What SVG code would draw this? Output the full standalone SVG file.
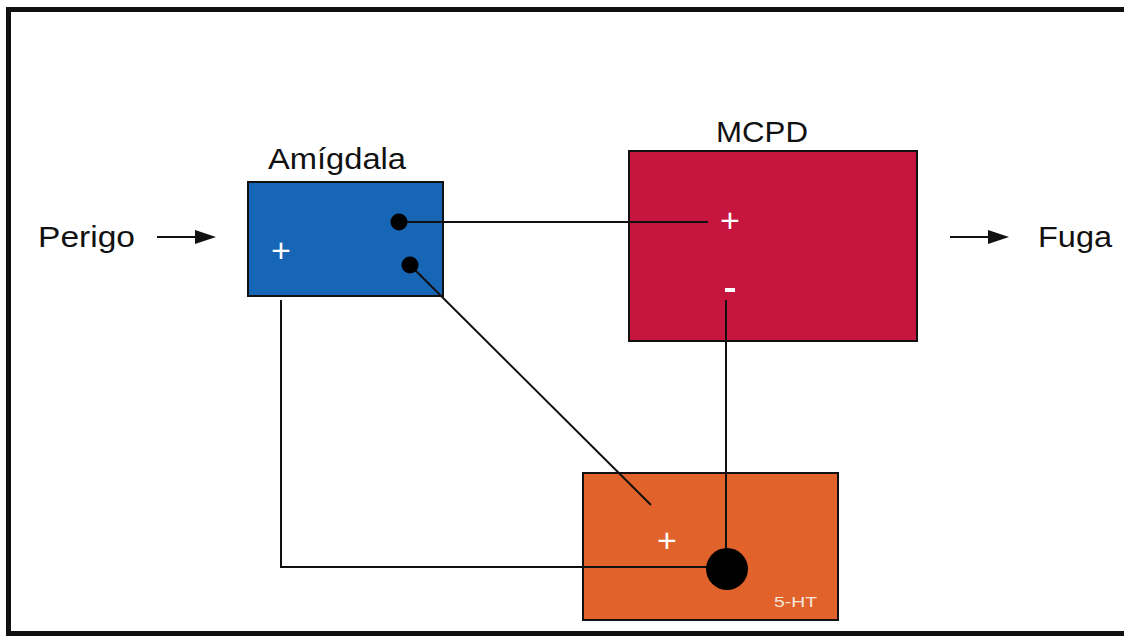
<svg xmlns="http://www.w3.org/2000/svg" width="1124" height="637" viewBox="0 0 1124 637">
<defs>
<style>
.lbl{font-family:"Liberation Sans",Arial,sans-serif;font-size:30px;fill:#111}
.sign{font-family:"Liberation Sans",Arial,sans-serif;font-size:34px;fill:#fff;text-anchor:middle}
.box{stroke:#111;stroke-width:2}
.wire{stroke:#111;stroke-width:2;fill:none}
.dot{fill:#000}
.head{fill:#111}
</style>
</defs>
<rect width="1124" height="637" fill="#fff"/>
<g id="frame">
<path d="M1124,9.5 H8.5 V633.5 H1124" fill="none" stroke="#111" stroke-width="5"/>
</g>
<g id="amigdala">
<rect class="box" x="248" y="182" width="195" height="114" fill="#1766b6"/>
<text class="lbl" x="268" y="169" textLength="138" lengthAdjust="spacingAndGlyphs">Amígdala</text>
<text class="sign" x="281" y="262">+</text>
</g>
<g id="mcpd">
<rect class="box" x="629" y="151" width="288" height="190" fill="#c6163f"/>
<text class="lbl" x="716" y="142" textLength="92" lengthAdjust="spacingAndGlyphs">MCPD</text>
<text class="sign" x="730" y="232">+</text>
<rect x="725" y="288" width="10" height="4" fill="#fff"/>
</g>
<g id="sht">
<rect class="box" x="583" y="473" width="255" height="147" fill="#e2622b"/>
<text class="sign" x="667" y="552">+</text>
<text x="774" y="607" font-family="'Liberation Sans',Arial,sans-serif" font-size="15" fill="#f3e6dc" textLength="43" lengthAdjust="spacingAndGlyphs">5-HT</text>
</g>
<g id="perigo">
<text class="lbl" x="38" y="247" textLength="97" lengthAdjust="spacingAndGlyphs">Perigo</text>
</g>
<g id="fuga">
<text class="lbl" x="1038" y="247" textLength="74" lengthAdjust="spacingAndGlyphs">Fuga</text>
</g>
<g id="connectors">
<line class="wire" x1="157" y1="237" x2="200" y2="237"/>
<polygon class="head" points="195,230 216,237 195,244"/>
<line class="wire" x1="950" y1="237" x2="993" y2="237"/>
<polygon class="head" points="988,230 1009,237 988,244"/>
<line class="wire" x1="399" y1="222" x2="708" y2="222"/>
<circle class="dot" cx="399" cy="222" r="8.5"/>
<line class="wire" x1="410" y1="265" x2="651" y2="505"/>
<circle class="dot" cx="410" cy="265" r="8.5"/>
<polyline class="wire" points="281,300 281,567 727,567"/>
<line class="wire" x1="726" y1="300" x2="726" y2="568"/>
<circle class="dot" cx="727" cy="569" r="21"/>
</g>
</svg>
